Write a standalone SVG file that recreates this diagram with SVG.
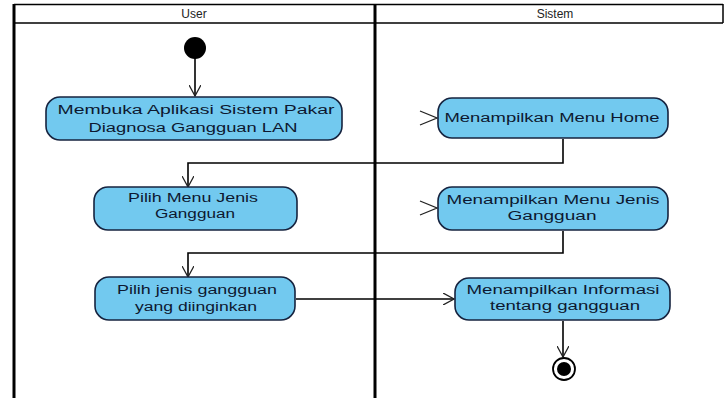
<svg xmlns="http://www.w3.org/2000/svg" width="726" height="398" viewBox="0 0 726 398">
  <style>
    .lane { stroke: #000; fill: none; }
    .hdr { font-family: "Liberation Sans", Arial, sans-serif; font-size: 12px; fill: #222; text-anchor: middle; }
    .act { fill: #72c9ef; stroke: #16233f; stroke-width: 1.6; }
    .lbl { font-family: "Liberation Sans", Arial, sans-serif; font-size: 12.5px; fill: #0d1830; text-anchor: middle; }
    .flow { fill: none; stroke: #000; stroke-width: 1.6; }
    .head { fill: none; stroke: #222; stroke-width: 1.3; }
  </style>
  <defs>
    <marker id="open" viewBox="0 0 12 12" refX="11" refY="6" markerWidth="12" markerHeight="12" markerUnits="userSpaceOnUse" orient="auto">
      <path d="M0,0 L11,6 L0,12" fill="none" stroke="#222" stroke-width="1.3"/>
    </marker>
  </defs>

  <rect width="726" height="398" fill="#fff"/>

  <!-- swimlanes -->
  <g id="lanes">
    <line class="lane" x1="14" y1="4.5" x2="723" y2="4.5" stroke-width="1.5"/>
    <line class="lane" x1="14" y1="23" x2="723" y2="23" stroke-width="1.5"/>
    <line class="lane" x1="723" y1="4" x2="723" y2="23" stroke-width="1.5"/>
    <line class="lane" x1="14" y1="4" x2="14" y2="398" stroke-width="3"/>
    <line class="lane" x1="375" y1="4" x2="375" y2="398" stroke-width="3"/>
    <text class="hdr" x="194" y="18">User</text>
    <text class="hdr" x="555" y="18">Sistem</text>
  </g>

  <!-- control flows -->
  <g id="connectors">
    <path class="flow" d="M195,58 V96" marker-end="url(#open)"/>
    <path class="head" d="M420,111 L437,118 L420,125"/>
    <path class="flow" d="M563,139 V163 H188 V187" marker-end="url(#open)"/>
    <path class="head" d="M420,201 L437,208 L420,215"/>
    <path class="flow" d="M563,231 V253 H188 V277" marker-end="url(#open)"/>
    <path class="flow" d="M296,299 H454" marker-end="url(#open)"/>
    <path class="flow" d="M563,321 V357" marker-end="url(#open)"/>
  </g>

  <g id="start">
    <circle cx="195" cy="48" r="11" fill="#000"/>
  </g>

  <g id="a1">
    <rect class="act" x="46" y="97" width="296" height="43" rx="14"/>
    <text class="lbl" x="196" y="114" textLength="277" lengthAdjust="spacingAndGlyphs">Membuka Aplikasi Sistem Pakar</text>
    <text class="lbl" x="193" y="132" textLength="209" lengthAdjust="spacingAndGlyphs">Diagnosa Gangguan LAN</text>
  </g>

  <g id="a2">
    <rect class="act" x="438" y="98" width="230" height="40" rx="14"/>
    <text class="lbl" x="552" y="122" textLength="215" lengthAdjust="spacingAndGlyphs">Menampilkan Menu Home</text>
  </g>

  <g id="a3">
    <rect class="act" x="94" y="187" width="203" height="43" rx="14"/>
    <text class="lbl" x="193" y="202" textLength="130" lengthAdjust="spacingAndGlyphs">Pilih Menu Jenis</text>
    <text class="lbl" x="195" y="218" textLength="80" lengthAdjust="spacingAndGlyphs">Gangguan</text>
  </g>

  <g id="a4">
    <rect class="act" x="438" y="187" width="230" height="43" rx="14"/>
    <text class="lbl" x="553" y="204" textLength="213" lengthAdjust="spacingAndGlyphs">Menampilkan Menu Jenis</text>
    <text class="lbl" x="552" y="220" textLength="89" lengthAdjust="spacingAndGlyphs">Gangguan</text>
  </g>

  <g id="a5">
    <rect class="act" x="95" y="277" width="200" height="43" rx="14"/>
    <text class="lbl" x="197" y="294" textLength="160" lengthAdjust="spacingAndGlyphs">Pilih jenis gangguan</text>
    <text class="lbl" x="196" y="311" textLength="122" lengthAdjust="spacingAndGlyphs">yang diinginkan</text>
  </g>

  <g id="a6">
    <rect class="act" x="455" y="278" width="215" height="42" rx="14"/>
    <text class="lbl" x="563" y="294" textLength="193" lengthAdjust="spacingAndGlyphs">Menampilkan Informasi</text>
    <text class="lbl" x="565" y="310" textLength="150" lengthAdjust="spacingAndGlyphs">tentang gangguan</text>
  </g>

  <g id="end">
    <circle cx="564" cy="369" r="11" fill="#fff" stroke="#000" stroke-width="1.8"/>
    <circle cx="564" cy="369" r="7" fill="#000"/>
  </g>
</svg>
